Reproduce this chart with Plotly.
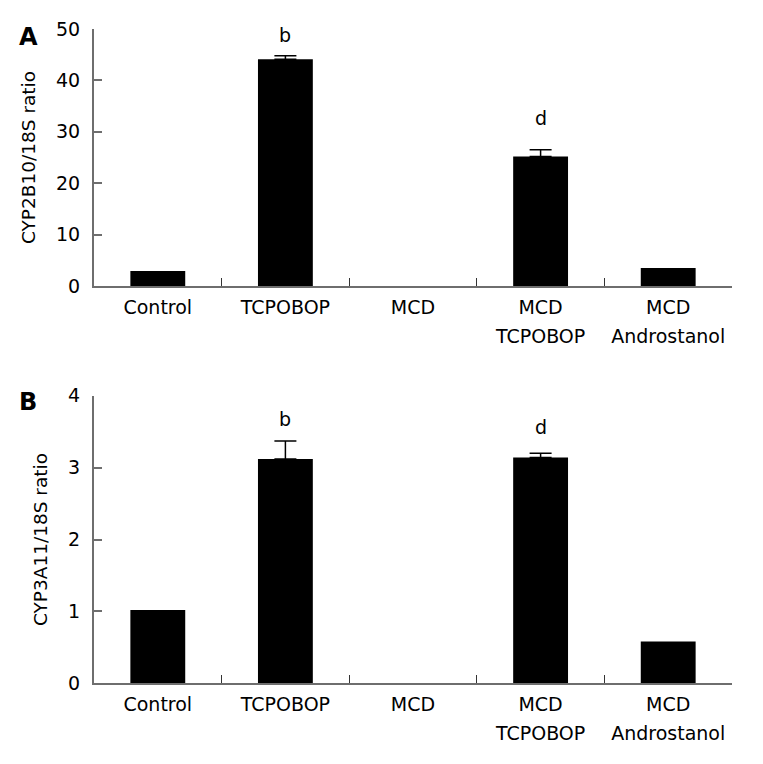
import plotly.graph_objects as go

categories_line1 = ["Control", "TCPOBOP", "MCD", "MCD", "MCD"]
categories_line2 = ["", "", "", "TCPOBOP", "Androstanol"]
cyp2b10_values = [2.9, 44.1, 0.0, 25.2, 3.5]
cyp2b10_errors = [None, 0.7, None, 1.3, None]
cyp3a11_values = [1.02, 3.12, 0.0, 3.14, 0.58]
cyp3a11_errors = [None, 0.25, None, 0.06, None]
cyp2b10_letters = ["", "b", "", "d", ""]
cyp3a11_letters = ["", "b", "", "d", ""]
cyp2b10_ticks = [0, 10, 20, 30, 40, 50]
cyp3a11_ticks = [0, 1, 2, 3, 4]

W, H = 763, 764
OFF = 8  # page body margin
FONT = "DejaVu Sans"
AXC = "#6e6e6e"
xpos = list(range(len(categories_line1)))

def px_x(p):
    return (p - OFF) / W

def px_y(p):
    return 1 - (p - OFF) / H

fig = go.Figure()
for vals, errs, xa, ya in [(cyp2b10_values, cyp2b10_errors, "x", "y"),
                           (cyp3a11_values, cyp3a11_errors, "x2", "y2")]:
    fig.add_trace(go.Bar(
        x=xpos, y=vals, width=0.43, xaxis=xa, yaxis=ya,
        marker=dict(color="black", line=dict(width=0)),
        showlegend=False, hoverinfo="skip",
    ))
    idx = [i for i, e in enumerate(errs) if e is not None]
    fig.add_trace(go.Scatter(
        x=[xpos[i] for i in idx], y=[vals[i] for i in idx], mode="markers",
        marker=dict(size=0.1, color="black", opacity=0), xaxis=xa, yaxis=ya,
        error_y=dict(type="data", symmetric=False, array=[errs[i] for i in idx],
                     arrayminus=[0] * len(idx), color="black", thickness=1.5,
                     width=11, visible=True),
        showlegend=False, hoverinfo="skip",
    ))

# invisible traces to hold second-line label axes
fig.add_trace(go.Scatter(x=[0], y=[0], xaxis="x3", yaxis="y", mode="markers",
                         marker=dict(opacity=0), showlegend=False, hoverinfo="skip"))
fig.add_trace(go.Scatter(x=[0], y=[0], xaxis="x4", yaxis="y2", mode="markers",
                         marker=dict(opacity=0), showlegend=False, hoverinfo="skip"))

xdom = [px_x(94), px_x(732)]
tickfont = dict(family=FONT, size=19, color="black")
xcommon = dict(
    domain=xdom, range=[-0.5, 4.5], tickmode="array", tickvals=xpos,
    ticktext=categories_line1, ticks="", showline=True, linecolor=AXC, linewidth=2,
    showgrid=False, zeroline=False, tickfont=tickfont, ticklabelstandoff=3,
    minor=dict(tickvals=[0.5, 1.5, 2.5, 3.5], ticks="inside", ticklen=8,
               tickwidth=1, tickcolor="#333333", showgrid=False),
    fixedrange=True, automargin=False,
)
x2nd = dict(
    domain=xdom, range=[-0.5, 4.5], tickmode="array", tickvals=xpos,
    ticktext=categories_line2, ticks="", showline=False, showgrid=False,
    zeroline=False, tickfont=tickfont, ticklabelstandoff=37,
    fixedrange=True, automargin=False,
)
ycommon = dict(
    showline=True, linecolor=AXC, linewidth=2, ticks="inside", ticklen=8,
    tickwidth=2, tickcolor=AXC, showgrid=False, zeroline=False,
    tickfont=tickfont, ticklabelstandoff=8,
    title_font=dict(family=FONT, size=18.5, color="black"), title_standoff=16,
    fixedrange=True, automargin=False,
)

fig.update_layout(
    width=W, height=H, margin=dict(l=0, r=0, t=0, b=0),
    paper_bgcolor="white", plot_bgcolor="white",
    xaxis=dict(anchor="y", **xcommon),
    xaxis3=dict(anchor="y", overlaying="x", **x2nd),
    yaxis=dict(anchor="x", domain=[px_y(286), px_y(29)], range=[0, 50],
               tickvals=cyp2b10_ticks, title_text="CYP2B10/18S ratio", **ycommon),
    xaxis2=dict(anchor="y2", **xcommon),
    xaxis4=dict(anchor="y2", overlaying="x2", **x2nd),
    yaxis2=dict(anchor="x2", domain=[px_y(683.3), px_y(395.7)], range=[0, 4],
                tickvals=cyp3a11_ticks, title_text="CYP3A11/18S ratio", **ycommon),
)

shifts_top = {"b": 21, "d": 32}
shifts_bot = {"b": 22, "d": 26}
for letters, vals, errs, xr, yr, shifts in [
        (cyp2b10_letters, cyp2b10_values, cyp2b10_errors, "x", "y", shifts_top),
        (cyp3a11_letters, cyp3a11_values, cyp3a11_errors, "x2", "y2", shifts_bot)]:
    for i, lt in enumerate(letters):
        if lt:
            fig.add_annotation(x=xpos[i], y=vals[i] + (errs[i] or 0), xref=xr, yref=yr,
                               text=lt, showarrow=False, yanchor="middle",
                               yshift=shifts[lt], xshift=0,
                               font=dict(family=FONT, size=19, color="black"))

for lab, ycen in [("A", 37), ("B", 402)]:
    fig.add_annotation(x=px_x(28), y=px_y(ycen), xref="paper", yref="paper",
                       text="<b>" + lab + "</b>", showarrow=False,
                       xanchor="center", yanchor="middle",
                       font=dict(family="DejaVu Sans", size=24, color="black"))

fig.write_html("out.html", config={"displayModeBar": False})
